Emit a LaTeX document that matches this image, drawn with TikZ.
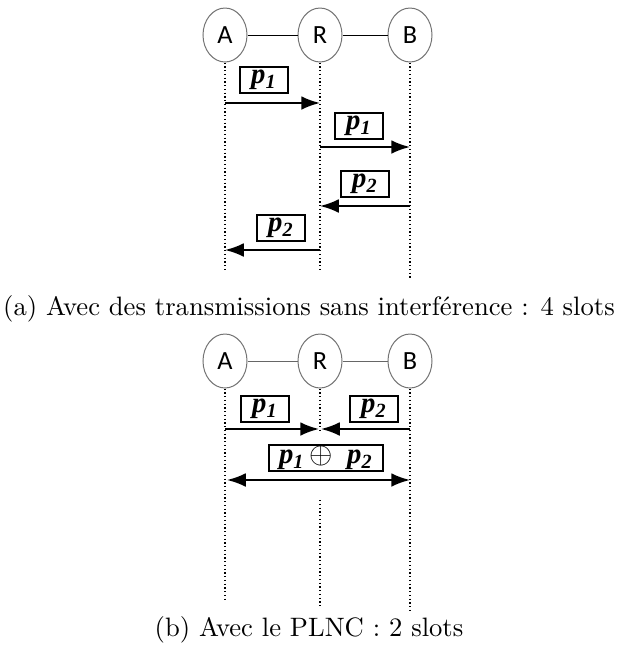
\documentclass[tikz,border=0pt]{standalone}
\usepackage{fontspec}
\newfontfamily\stationfont{Carlito}
\newfontfamily\pktfont{Liberation Serif}
\usetikzlibrary{shapes.geometric,arrows.meta}
\tikzset{
  station/.style={ellipse,draw=black!55,thin,minimum width=17.6pt,minimum height=21.6pt,inner sep=0pt,font=\stationfont\fontsize{10.5}{10.5}\selectfont},
  pkt/.style={draw,thick,minimum width=19.5pt,minimum height=10.6pt,inner sep=0pt,font=\pktfont\fontsize{11.5}{11.5}\selectfont},
  msg/.style={thick,-{Latex[length=7.5pt,width=5.5pt]}},
  life/.style={densely dotted,line width=0.5pt},
  caption/.style={font=\fontsize{10.65}{12}\selectfont},
}
\newcommand{\pk}[1]{\textbf{\textit{p}}\textsubscript{\textbf{\textit{#1}}}}
\begin{document}
\begin{tikzpicture}[x=0.4pt,y=-0.4pt]
	\useasboundingbox (0,0) rectangle (619,655);

	% (a) sans interference
	\node[station] (A1) at (225,35) {A};
	\node[station] (R1) at (320,35) {R};
	\node[station] (B1) at (410,35) {B};
	\draw (A1)--(R1);
	\draw (R1)--(B1);

	\coordinate (A1e) at (225,272);
	\coordinate (R1e) at (320,270);
	\coordinate (B1e) at (410,280);
	\draw[life] (A1.south)--(A1e);
	\draw[life] (R1.south)--(R1e);
	\draw[life] (B1.south)--(B1e);

	\coordinate (a1) at (225,103); \coordinate (r1) at (320,103);
	\coordinate (r2) at (320,147); \coordinate (b2) at (410,147);
	\coordinate (b3) at (410,206); \coordinate (r3) at (320,206);
	\coordinate (r4) at (320,250); \coordinate (a4) at (225,250);

	\node[pkt] (P1) at (264,80) {\pk{1}};
	\node[pkt] (P2) at (359,126) {\pk{1}};
	\node[pkt] (P3) at (365,184) {\pk{2}};
	\node[pkt] (P4) at (281,228) {\pk{2}};

	\draw[msg] (a1)--(r1);
	\draw[msg] (r2)--(b2);
	\draw[msg] (b3)--(r3);
	\draw[msg] (r4)--(a4);

	\node[caption] (capA) at (309,309) {(a) Avec des transmissions sans interférence : 4 slots};

	% (b) PLNC
	\node[station] (A2) at (225,361) {A};
	\node[station] (R2) at (320,361) {R};
	\node[station] (B2) at (410,361) {B};
	\draw[black!60] (A2)--(R2);
	\draw[black!60] (R2)--(B2);

	\coordinate (a5) at (225,429); \coordinate (r5) at (319,429);
	\coordinate (b5) at (410,429); \coordinate (r6) at (321,429);
	\coordinate (a7) at (227,480); \coordinate (b7) at (410,480);

	\coordinate (A2e) at (225,599);
	\coordinate (R2m) at (320,433);
	\coordinate (R2s) at (320,500);
	\coordinate (R2e) at (320,606);
	\coordinate (B2e) at (410,610);
	\draw[life] (A2.south)--(A2e);
	\draw[life] (R2.south)--(R2m);
	\draw[life] (R2s)--(R2e);
	\draw[life] (B2.south)--(B2e);

	\node[pkt] (P5) at (265,409) {\pk{1}};
	\node[pkt] (P6) at (374,409) {\pk{2}};
	\node[pkt,minimum width=45.6pt] (P7) at (326,458) {\pk{1}\,$\oplus$\ \ \pk{2}};

	\draw[msg] (a5)--(r5);
	\draw[msg] (b5)--(r6);
	\draw[msg,{Latex[length=7.5pt,width=5.5pt]}-{Latex[length=7.5pt,width=5.5pt]}] (a7)--(b7);

	\node[caption] (capB) at (309,630) {(b) Avec le PLNC : 2 slots};
\end{tikzpicture}
\end{document}
